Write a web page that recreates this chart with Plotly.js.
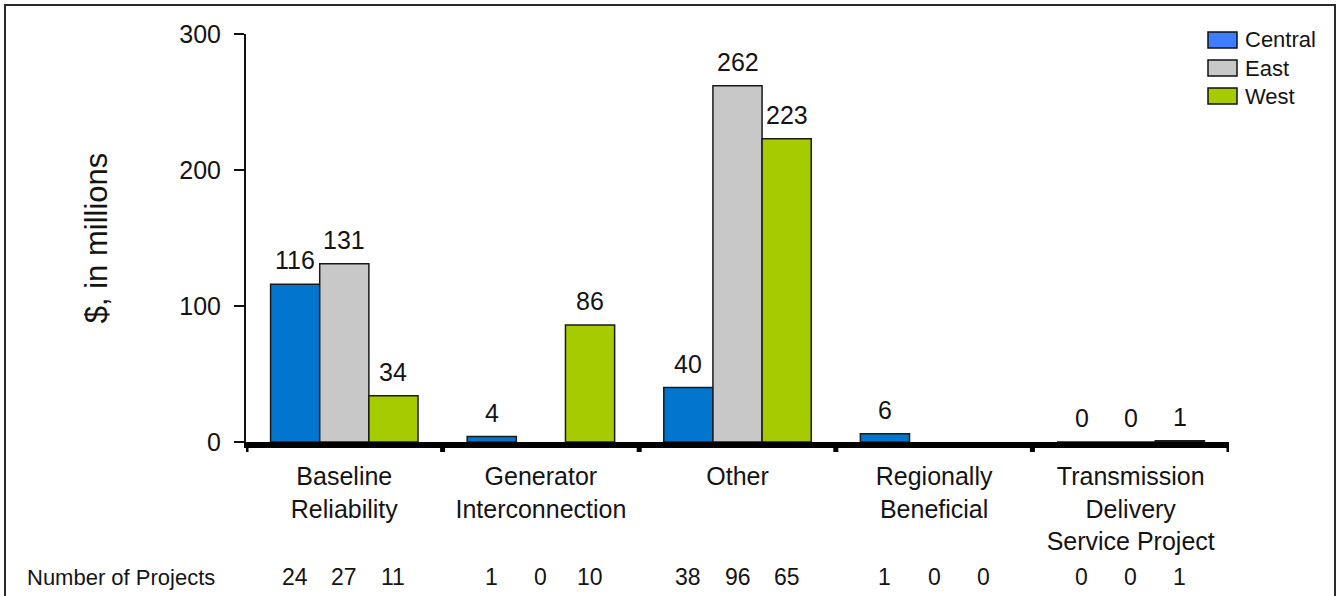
<!DOCTYPE html>
<html>
<head>
<meta charset="utf-8">
<script src="https://cdn.plot.ly/plotly-3.0.1.min.js"></script>
<style>
  html, body { margin: 0; padding: 0; background: #ffffff; }
  #chart { width: 1338px; height: 596px; }
</style>
</head>
<body>
<div id="chart"></div>
<script>
// Project categories (axis labels) and spend per region, $ millions
const categories = [
  'Baseline<br>Reliability',
  'Generator<br>Interconnection',
  'Other',
  'Regionally<br>Beneficial',
  'Transmission<br>Delivery<br>Service Project'
];
const regions = ['Central', 'East', 'West'];
const central = [116, 4, 40, 6, 0];
const east = [131, null, 262, null, 0];
const west = [34, 86, 223, null, 1];

// Number of projects per category and region
const projectsCentral = [24, 1, 38, 1, 0];
const projectsEast = [27, 0, 96, 0, 0];
const projectsWest = [11, 10, 65, 0, 1];
const projectsLabel = 'Number of Projects';
const yTitle = '$, in millions';
const yTicks = [0, 100, 200, 300];

// Styling
const barColors = ['#0275CE', '#C8C8C8', '#A6CC00'];
const swatchColors = ['#3D7DFF', '#C8C8C8', '#A6CC00'];
const FONT = 'Liberation Sans, Arial, sans-serif';
const INK = '#141414';

const W = 1338, H = 596;
const M = { l: 246, r: 109, t: 34, b: 154 };
const plotW = W - M.l - M.r, plotH = H - M.t - M.b;
const px2x = p => (p - M.l) / plotW;        // pixel x -> paper x
const px2y = p => (H - M.b - p) / plotH;    // pixel y -> paper y

const bargap = 0.25;
const barW = (1 - bargap) / 3;
const offsets = [-barW, 0, barW];

const series = [central, east, west];
const counts = [projectsCentral, projectsEast, projectsWest];
const idx = categories.map((_, i) => i);

const traces = series.map((vals, s) => ({
  type: 'bar',
  name: regions[s],
  x: idx,
  y: vals,
  marker: { color: barColors[s], line: { color: '#1a1a1a', width: 1.5 } },
  hoverinfo: 'skip',
  showlegend: false
}));

const annotations = [];
// value labels above bars
series.forEach((vals, s) => {
  vals.forEach((v, i) => {
    if (v === null) return;
    annotations.push({
      xref: 'x', yref: 'y', x: i + offsets[s], y: v,
      text: String(v), showarrow: false,
      xanchor: 'center', yanchor: 'bottom', yshift: 8,
      font: { family: FONT, size: 25, color: INK }
    });
  });
});
// project counts row
annotations.push({
  xref: 'paper', yref: 'paper', x: px2x(25), y: px2y(577),
  text: projectsLabel, showarrow: false, xanchor: 'left', yanchor: 'middle',
  font: { family: FONT, size: 22, color: INK }
});
counts.forEach((vals, s) => {
  vals.forEach((n, i) => {
    annotations.push({
      xref: 'x', yref: 'paper', x: i + offsets[s], y: px2y(577),
      text: String(n), showarrow: false, xanchor: 'center', yanchor: 'middle',
      font: { family: FONT, size: 23, color: INK }
    });
  });
});

// legend: swatches and names
const shapes = [];
regions.forEach((name, s) => {
  const cy = 40 + s * 28;
  shapes.push({
    type: 'rect', xref: 'paper', yref: 'paper',
    x0: px2x(1208), x1: px2x(1237), y0: px2y(cy + 8), y1: px2y(cy - 8),
    fillcolor: swatchColors[s], line: { color: '#111111', width: 1.5 }
  });
  annotations.push({
    xref: 'paper', yref: 'paper', x: px2x(1243), y: px2y(cy),
    text: name, showarrow: false, xanchor: 'left', yanchor: 'middle',
    font: { family: FONT, size: 22, color: INK }
  });
});

// outer frame
shapes.push({
  type: 'rect', xref: 'paper', yref: 'paper',
  x0: px2x(5), x1: px2x(1335), y0: px2y(640), y1: px2y(5),
  line: { color: '#2a2a2a', width: 2 }, fillcolor: 'rgba(0,0,0,0)', layer: 'below'
});

const layout = {
  width: W, height: H,
  margin: M,
  paper_bgcolor: '#ffffff', plot_bgcolor: '#ffffff',
  barmode: 'group', bargap: bargap, bargroupgap: 0,
  showlegend: false,
  font: { family: FONT, color: INK },
  xaxis: {
    type: 'linear',
    range: [-0.5, categories.length - 0.5],
    tickmode: 'array', tickvals: idx, ticktext: categories,
    showline: true, linecolor: '#000000', linewidth: 6,
    ticks: '', showgrid: false, zeroline: false,
    tickfont: { family: FONT, size: 25, color: INK },
    ticklabelstandoff: 7,
    fixedrange: true, automargin: false
  },
  yaxis: {
    range: [0, 300],
    tickvals: yTicks,
    showline: true, linecolor: '#111111', linewidth: 2,
    ticks: 'outside', ticklen: 10, tickwidth: 2, tickcolor: '#111111',
    showgrid: false, zeroline: false,
    tickfont: { family: FONT, size: 25, color: INK },
    ticklabelstandoff: 8,
    title: { text: yTitle, font: { family: FONT, size: 31, color: INK }, standoff: 62 },
    fixedrange: true, automargin: false
  },
  annotations: annotations,
  shapes: shapes.concat(
    // category boundary ticks on the base line
    [0, 1, 2, 3, 4, 5].map(b => ({
      type: 'line', xref: 'x', yref: 'paper',
      x0: b - 0.5, x1: b - 0.5, y0: px2y(442), y1: px2y(452),
      line: { color: '#000000', width: 5 }
    }))
  )
};

Plotly.newPlot('chart', traces, layout, { displayModeBar: false, staticPlot: true });
</script>
</body>
</html>
